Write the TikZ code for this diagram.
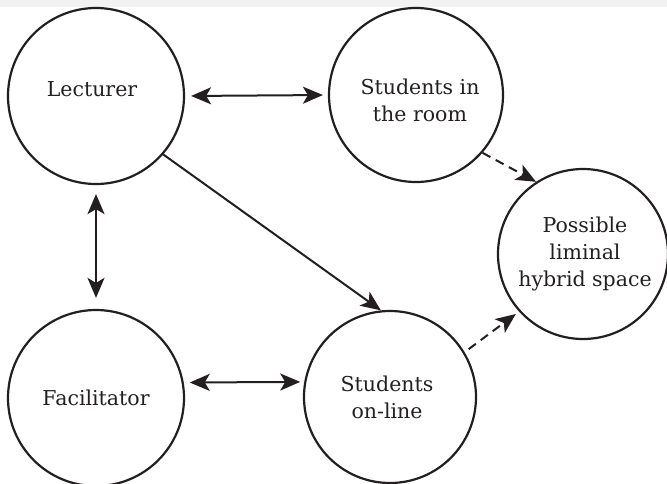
\documentclass[tikz,border=0pt]{standalone}
\usepackage{fontspec}
\setmainfont{DejaVu Serif}
\usetikzlibrary{arrows.meta}
\definecolor{ink}{HTML}{231F20}
\begin{document}
\begin{tikzpicture}[x=1pt,y=-1pt,
  circ/.style={circle,draw=ink,line width=2.2pt,minimum size=#1,inner sep=0pt},
  txt/.style={font=\fontsize{20.5}{27}\selectfont,align=center,inner sep=0pt,text=ink},
  tip/.tip={Stealth[length=20pt,width=17pt,inset=5pt]},
  conn/.style={line width=2pt,draw=ink,-tip},
  biconn/.style={conn,tip-tip},
  dashconn/.style={conn,dash pattern=on 9pt off 6pt}]
\useasboundingbox (0,0) rectangle (667,483);
\fill[black!5] (0,0) rectangle (667,7);
\node[circ=176pt] (lec) at (96,96) {};
\node[circ=174pt] (room) at (416,95) {};
\node[circ=170pt] (poss) at (583,254) {};
\node[circ=176pt] (fac) at (96,398) {};
\node[circ=172pt] (son) at (390,397) {};
\node[txt] (lect) at (92,89) {Lecturer};
\node[txt] (roomt) at (420,100) {Students in\\the room};
\node[txt] (posst) at (585,254) {Possible\\liminal\\hybrid space};
\node[txt] (fact) at (96,398) {Facilitator};
\node[txt] (sont) at (387,397) {Students\\on-line};
\draw[biconn,shorten <=6pt,shorten >=5pt] (lec.east) -- (room.west);
\draw[biconn,shorten <=9pt,shorten >=11pt] (lec.south) -- (fac.north);
\draw[biconn,shorten <=6pt,shorten >=4pt] (fac.10) -- (son.170);
\draw[conn] (lec.-41) -- (son.96);
\draw[dashconn] (room.-41) -- (poss.123);
\draw[dashconn,shorten <=5pt,shorten >=4pt] (son.31) -- (poss.222);
\end{tikzpicture}
\end{document}
